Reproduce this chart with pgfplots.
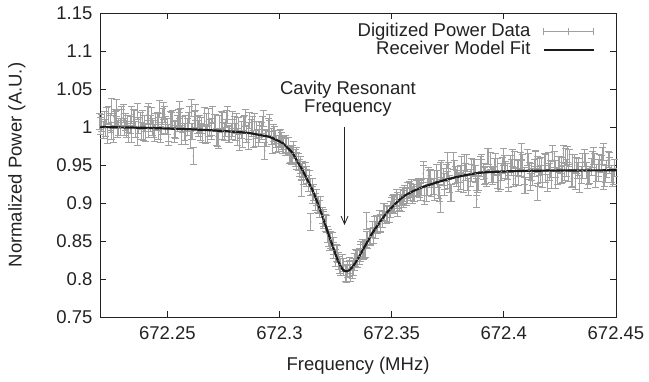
\documentclass[border=0pt]{standalone}
\usepackage{fontspec}
\setmainfont{Liberation Sans}
\usepackage{pgfplots}
\usepackage{pgfplotstable}
\pgfplotsset{compat=1.18}
\usetikzlibrary{arrows.meta}
\definecolor{datagray}{HTML}{A0A0A0}
\definecolor{fitblack}{HTML}{1A1A1A}
\definecolor{txt}{HTML}{222222}
\newcommand{\chartfont}{\fontsize{18.5}{18}\selectfont}
\pgfplotstableread{
x y
0.2200 1.0072
0.2215 0.9960
0.2230 1.0141
0.2245 1.0042
0.2260 0.9901
0.2275 1.0110
0.2290 0.9998
0.2305 1.0193
0.2320 0.9968
0.2335 1.0023
0.2350 1.0121
0.2365 0.9868
0.2380 1.0077
0.2395 0.9936
0.2410 1.0159
0.2425 1.0046
0.2440 0.9974
0.2455 1.0085
0.2470 0.9901
0.2485 1.0208
0.2500 1.0006
0.2515 1.0092
0.2530 0.9909
0.2545 1.0048
0.2560 1.0130
0.2575 0.9933
0.2590 1.0001
0.2605 0.9831
0.2620 1.0095
0.2635 1.0023
0.2650 0.9937
0.2665 1.0145
0.2680 0.9905
0.2695 1.0001
0.2710 1.0055
0.2725 0.9857
0.2740 1.0093
0.2755 0.9937
0.2770 1.0157
0.2785 0.9943
0.2800 1.0023
0.2815 0.9865
0.2830 0.9959
0.2845 1.0039
0.2860 0.9811
0.2875 0.9987
0.2890 1.0063
0.2905 0.9858
0.2920 0.9948
0.2935 0.9687
0.2950 1.0001
0.2965 0.9876
0.2980 0.9899
0.2995 0.9782
0.3010 0.9818
0.3025 0.9733
0.3040 0.9755
0.3055 0.9616
0.3070 0.9597
0.3085 0.9544
0.3100 0.9414
0.3115 0.9426
0.3130 0.9258
0.3145 0.9218
0.3160 0.9016
0.3175 0.8971
0.3190 0.8836
0.3205 0.8742
0.3220 0.8540
0.3235 0.8503
0.3250 0.8281
0.3265 0.8237
0.3280 0.8209
0.3295 0.8084
0.3310 0.8137
0.3325 0.8122
0.3340 0.8277
0.3355 0.8296
0.3370 0.8406
0.3385 0.8393
0.3400 0.8550
0.3415 0.8652
0.3430 0.8648
0.3445 0.8794
0.3460 0.8784
0.3475 0.8864
0.3490 0.8857
0.3505 0.8985
0.3520 0.9071
0.3535 0.9006
0.3550 0.9092
0.3565 0.9083
0.3580 0.9177
0.3595 0.9103
0.3610 0.9191
0.3625 0.9189
0.3640 0.9386
0.3655 0.9127
0.3670 0.9317
0.3685 0.9218
0.3700 0.9392
0.3715 0.9133
0.3730 0.9339
0.3745 0.9400
0.3760 0.9254
0.3775 0.9555
0.3790 0.9324
0.3805 0.9380
0.3820 0.9244
0.3835 0.9525
0.3850 0.9325
0.3865 0.9461
0.3880 0.9213
0.3895 0.9509
0.3910 0.9417
0.3925 0.9324
0.3940 0.9550
0.3955 0.9376
0.3970 0.9474
0.3985 0.9284
0.4000 0.9606
0.4015 0.9416
0.4030 0.9514
0.4045 0.9324
0.4060 0.9469
0.4075 0.9550
0.4090 0.9359
0.4105 0.9600
0.4120 0.9281
0.4135 0.9457
0.4150 0.9506
0.4165 0.9378
0.4180 0.9539
0.4195 0.9267
0.4210 0.9444
0.4225 0.9572
0.4240 0.9348
0.4255 0.9493
0.4270 0.9413
0.4285 0.9637
0.4300 0.9317
0.4315 0.9526
0.4330 0.9430
0.4345 0.9366
0.4360 0.9590
0.4375 0.9302
0.4390 0.9478
0.4405 0.9542
0.4420 0.9398
0.4435 0.9510
0.4450 0.9334
0.4465 0.9574
0.4480 0.9382
0.4495 0.9462
0.2615 0.9620
0.3098 0.9190
0.3140 0.8750
0.3390 0.8760
0.3716 0.8990
0.3880 0.9050
0.4150 0.9150
0.2250 1.0260
0.2275 1.0250
0.2465 1.0240
0.2555 1.0220
0.2610 1.0250
0.4080 0.9680
0.3750 0.9560
0.4265 0.9650
0.4445 0.9670
}\dataA
\pgfplotstableread{
x y
0.22075 1.0058
0.22225 0.9988
0.22375 1.0155
0.22525 0.9944
0.22675 1.0097
0.22825 0.9998
0.22975 1.0124
0.23125 1.0067
0.23275 0.9912
0.23425 1.0163
0.23575 0.9967
0.23725 1.0022
0.23875 1.0105
0.24025 0.9922
0.24175 1.0201
0.24325 1.0003
0.24475 1.0072
0.24625 0.9944
0.24775 1.0139
0.24925 1.0025
0.25075 0.9869
0.25225 1.0106
0.25375 0.9965
0.25525 1.0075
0.25675 1.0032
0.25825 0.9876
0.25975 1.0154
0.26125 0.9942
0.26275 1.0108
0.26425 1.0036
0.26575 0.9908
0.26725 1.0074
0.26875 0.9988
0.27025 1.0154
0.27175 0.9872
0.27325 1.0038
0.27475 0.9952
0.27625 1.0103
0.27775 0.9903
0.27925 0.9983
0.28075 1.0063
0.28225 0.9807
0.28375 1.0027
0.28525 0.9911
0.28675 1.0088
0.28825 0.9843
0.28975 0.9961
0.29125 0.9910
0.29275 1.0112
0.29425 0.9851
0.29575 0.9981
0.29725 0.9922
0.29875 0.9775
0.30025 0.9854
0.30175 0.9761
0.30325 0.9759
0.30475 0.9650
0.30625 0.9694
0.30775 0.9553
0.30925 0.9500
0.31075 0.9357
0.31225 0.9369
0.31375 0.9208
0.31525 0.9138
0.31675 0.8982
0.31825 0.8973
0.31975 0.8804
0.32125 0.8587
0.32275 0.8516
0.32425 0.8374
0.32575 0.8334
0.32725 0.8157
0.32875 0.8162
0.33025 0.8126
0.33175 0.8076
0.33325 0.8224
0.33475 0.8260
0.33625 0.8387
0.33775 0.8379
0.33925 0.8517
0.34075 0.8553
0.34225 0.8713
0.34375 0.8715
0.34525 0.8723
0.34675 0.8881
0.34825 0.8852
0.34975 0.8969
0.35125 0.8971
0.35275 0.9033
0.35425 0.9004
0.35575 0.9127
0.35725 0.9100
0.35875 0.9200
0.36025 0.9132
0.36175 0.9208
0.36325 0.9206
0.36475 0.9089
0.36625 0.9358
0.36775 0.9196
0.36925 0.9321
0.37075 0.9175
0.37225 0.9444
0.37375 0.9282
0.37525 0.9423
0.37675 0.9133
0.37825 0.9368
0.37975 0.9264
0.38125 0.9496
0.38275 0.9409
0.38425 0.9209
0.38575 0.9473
0.38725 0.9385
0.38875 0.9281
0.39025 0.9463
0.39175 0.9371
0.39325 0.9613
0.39475 0.9359
0.39625 0.9537
0.39775 0.9267
0.39925 0.9493
0.40075 0.9431
0.40225 0.9321
0.40375 0.9595
0.40525 0.9357
0.40675 0.9454
0.40825 0.9535
0.40975 0.9232
0.41125 0.9425
0.41275 0.9345
0.41425 0.9570
0.41575 0.9474
0.41725 0.9315
0.41875 0.9523
0.42025 0.9412
0.42175 0.9652
0.42325 0.9300
0.42475 0.9509
0.42625 0.9381
0.42775 0.9461
0.42925 0.9589
0.43075 0.9334
0.43225 0.9494
0.43375 0.9254
0.43525 0.9542
0.43675 0.9430
0.43825 0.9366
0.43975 0.9622
0.44125 0.9398
0.44275 0.9526
0.44425 0.9286
0.44575 0.9446
0.44725 0.9558
0.44875 0.9350
}\dataB
\pgfplotstableread{
x y
0.2204 1.0016
0.2219 1.0100
0.2234 0.9889
0.2249 1.0070
0.2264 1.0125
0.2279 0.9970
0.2294 1.0166
0.2309 0.9997
0.2324 1.0038
0.2339 0.9911
0.2354 1.0107
0.2369 1.0204
0.2384 0.9951
0.2399 1.0048
0.2414 0.9977
0.2429 1.0144
0.2444 0.9918
0.2459 1.0071
0.2474 1.0013
0.2489 1.0166
0.2504 0.9926
0.2519 1.0078
0.2534 0.9979
0.2549 1.0118
0.2564 0.9878
0.2579 1.0045
0.2594 1.0085
0.2609 0.9943
0.2624 1.0193
0.2639 0.9981
0.2654 1.0021
0.2669 0.9893
0.2684 1.0129
0.2699 0.9945
0.2714 1.0055
0.2729 0.9829
0.2744 1.0079
0.2759 0.9992
0.2774 0.9904
0.2789 1.0096
0.2804 0.9938
0.2819 1.0018
0.2834 0.9846
0.2849 1.0122
0.2864 0.9949
0.2879 1.0027
0.2894 0.9851
0.2909 0.9968
0.2924 1.0030
0.2939 0.9853
0.2954 1.0054
0.2969 0.9758
0.2984 0.9845
0.2999 0.9842
0.3014 0.9764
0.3029 0.9781
0.3044 0.9635
0.3059 0.9650
0.3074 0.9624
0.3089 0.9464
0.3104 0.9441
0.3119 0.9330
0.3134 0.9324
0.3149 0.9110
0.3164 0.9074
0.3179 0.8921
0.3194 0.8775
0.3209 0.8725
0.3224 0.8489
0.3239 0.8433
0.3254 0.8339
0.3269 0.8189
0.3284 0.8158
0.3299 0.8069
0.3314 0.8179
0.3329 0.8159
0.3344 0.8261
0.3359 0.8340
0.3374 0.8367
0.3389 0.8522
0.3404 0.8559
0.3419 0.8573
0.3434 0.8725
0.3449 0.8739
0.3464 0.8885
0.3479 0.8847
0.3494 0.8917
0.3509 0.9003
0.3524 0.8939
0.3539 0.9072
0.3554 0.9050
0.3569 0.9167
0.3584 0.9141
0.3599 0.9133
0.3614 0.9203
0.3629 0.9147
0.3644 0.9437
0.3659 0.9211
0.3674 0.9337
0.3689 0.9142
0.3704 0.9316
0.3719 0.9425
0.3734 0.9215
0.3749 0.9308
0.3764 0.9130
0.3779 0.9445
0.3794 0.9374
0.3809 0.9286
0.3824 0.9534
0.3839 0.9271
0.3854 0.9391
0.3869 0.9463
0.3884 0.9247
0.3899 0.9526
0.3914 0.9354
0.3929 0.9613
0.3944 0.9375
0.3959 0.9473
0.3974 0.9299
0.3989 0.9413
0.4004 0.9511
0.4019 0.9257
0.4034 0.9467
0.4049 0.9564
0.4064 0.9341
0.4079 0.9454
0.4094 0.9231
0.4109 0.9536
0.4124 0.9409
0.4139 0.9585
0.4154 0.9330
0.4169 0.9490
0.4184 0.9379
0.4199 0.9555
0.4214 0.9300
0.4229 0.9444
0.4244 0.9508
0.4259 0.9365
0.4274 0.9605
0.4289 0.9397
0.4304 0.9525
0.4319 0.9286
0.4334 0.9478
0.4349 0.9430
0.4364 0.9542
0.4379 0.9350
0.4394 0.9574
0.4409 0.9318
0.4424 0.9462
0.4439 0.9622
0.4454 0.9382
0.4469 0.9494
0.4484 0.9334
}\dataC
\begin{document}
\begin{tikzpicture}
\begin{axis}[
  scale only axis, width=516pt, height=304pt,
  xmin=0.22, xmax=0.45, ymin=0.75, ymax=1.15,
  xtick={0.25,0.3,0.35,0.4,0.45},
  xticklabels={672.25,672.3,672.35,672.4,672.45},
  ytick={0.75,0.8,0.85,0.9,0.95,1,1.05,1.1,1.15},
  yticklabels={0.75,0.8,0.85,0.9,0.95,1,1.05,1.1,1.15},
  tick align=inside, major tick length=6pt,
  tick style={line width=0.8pt, color=txt},
  axis line style={line width=0.8pt, color=txt},
  font=\chartfont,
  every tick label/.append style={font=\chartfont, text=txt},
  xticklabel style={yshift=-6pt},
  yticklabel style={xshift=-4pt},
  xlabel={Frequency (MHz)}, ylabel={Normalized Power (A.U.)},
  xlabel style={at={(axis description cs:0.5,-0.161)}, anchor=center, font=\chartfont, text=txt},
  ylabel style={at={(axis description cs:-0.161,0.5)}, anchor=center, font=\chartfont, text=txt},
  legend plot pos=right,
  legend cell align=right,
  legend style={draw=none, fill=none, at={(rel axis cs:0.959,0.967)}, anchor=north east,
    font=\chartfont, text=txt, row sep=1pt, column sep=12pt, inner sep=0pt,
    nodes={inner sep=0pt, text height=13pt, text depth=4pt}},
  clip=false,
  errdata/.style={datagray, only marks, mark=*, mark size=0.4pt,
    error bars/y dir=both, error bars/y fixed=0.011,
    error bars/error bar style={line width=1pt, datagray},
    error bars/error mark options={rotate=90, mark size=3.5pt, line width=0.9pt, datagray}},
]
\addplot[errdata,
  legend image code/.code={%
    \draw[datagray, line width=0.8pt] (0pt,0pt) -- (50pt,0pt)
      (0pt,-3.5pt) -- (0pt,3.5pt) (25pt,-3.5pt) -- (25pt,3.5pt) (50pt,-3.5pt) -- (50pt,3.5pt);}]
  table[x=x, y=y] {\dataA};
\addplot[forget plot, errdata] table[x=x, y=y] {\dataB};
\addplot[forget plot, errdata] table[x=x, y=y] {\dataC};
\addplot[fitblack, line width=2.2pt, smooth, tension=0.4,
  legend image code/.code={\draw[fitblack, line width=2.2pt] (0pt,0pt) -- (50pt,0pt);}]
  coordinates {
(0.2200,1.0000) (0.2300,0.9995) (0.2400,0.9989) (0.2500,0.9980)
(0.2600,0.9970) (0.2700,0.9956) (0.2800,0.9937) (0.2866,0.9920)
(0.2915,0.9893) (0.2955,0.9870) (0.2985,0.9832) (0.3013,0.9790)
(0.3036,0.9725) (0.3058,0.9660) (0.3080,0.9545) (0.3103,0.9430)
(0.3125,0.9300) (0.3147,0.9170) (0.3170,0.9000) (0.3192,0.8820)
(0.3208,0.8680) (0.3223,0.8550) (0.3240,0.8410) (0.3254,0.8290)
(0.3268,0.8195) (0.3281,0.8130) (0.3290,0.8105) (0.3300,0.8102)
(0.3310,0.8115) (0.3326,0.8160) (0.3350,0.8270) (0.3371,0.8380)
(0.3393,0.8495) (0.3415,0.8610) (0.3447,0.8745) (0.3478,0.8870)
(0.3515,0.8985) (0.3550,0.9080) (0.3595,0.9155) (0.3639,0.9210)
(0.3705,0.9275) (0.3773,0.9330) (0.3835,0.9370) (0.3900,0.9400)
(0.4000,0.9415) (0.4100,0.9423) (0.4250,0.9428) (0.4500,0.9430)
};
\legend{Digitized Power Data, Receiver Model Fit}
\draw[-{Straight Barb[length=8pt,width=7pt]}, line width=0.8pt, txt]
  (axis cs:0.3290,1.000) -- (axis cs:0.3290,0.871);
\node[align=center, font=\chartfont, text=txt]
  at (axis cs:0.3305,1.0368) {Cavity Resonant\\Frequency};
\end{axis}
\pgfresetboundingbox
\useasboundingbox (-100pt,-64pt) rectangle (549pt,317pt);
\end{tikzpicture}
\end{document}
